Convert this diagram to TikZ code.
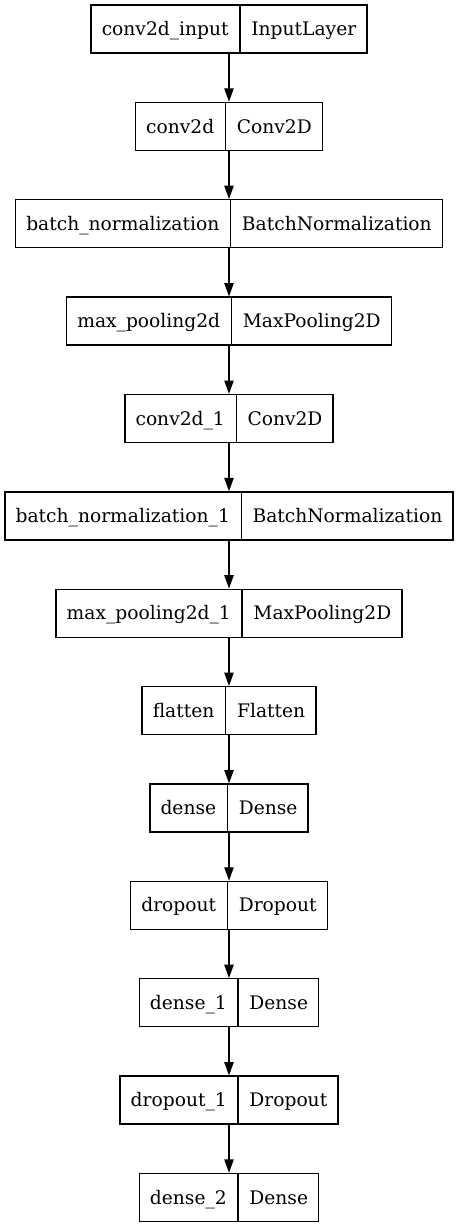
\documentclass[tikz,border=0pt]{standalone}
\usepackage{fontspec}
\setmainfont{DejaVu Serif}
\usetikzlibrary{shapes.multipart,arrows.meta}
% record field: fixed height and depth so every baseline sits alike
\newcommand{\fld}[1]{\rule[-1.5pt]{0pt}{13pt}\smash{#1}}
\begin{document}
\begin{tikzpicture}[x=0.75pt,y=-0.75pt,
  layer/.style={draw=black, line width=1pt, rectangle split,
    rectangle split horizontal, rectangle split parts=2,
    inner xsep=8pt, inner ysep=11.5pt, anchor=center,
    font=\fontsize{14}{16}\selectfont},
  flow/.style={draw=black, line width=1pt, -{Triangle[length=10pt,width=7pt]}}]
\useasboundingbox (0,0) rectangle (459,1228);

\node[layer] (n1)  at (229,29.0)   {\fld{conv2d\_input} \nodepart{two}\fld{InputLayer}};
\node[layer] (n2)  at (229,126.4)  {\fld{conv2d} \nodepart{two}\fld{Conv2D}};
\node[layer] (n3)  at (229,223.7)  {\fld{batch\_normalization} \nodepart{two}\fld{BatchNormalization}};
\node[layer] (n4)  at (229,321.1)  {\fld{max\_pooling2d} \nodepart{two}\fld{MaxPooling2D}};
\node[layer] (n5)  at (229,418.5)  {\fld{conv2d\_1} \nodepart{two}\fld{Conv2D}};
\node[layer] (n6)  at (229,515.9)  {\fld{batch\_normalization\_1} \nodepart{two}\fld{BatchNormalization}};
\node[layer] (n7)  at (229,613.2)  {\fld{max\_pooling2d\_1} \nodepart{two}\fld{MaxPooling2D}};
\node[layer] (n8)  at (229,710.6)  {\fld{flatten} \nodepart{two}\fld{Flatten}};
\node[layer] (n9)  at (229,808.0)  {\fld{dense} \nodepart{two}\fld{Dense}};
\node[layer] (n10) at (229,905.3)  {\fld{dropout} \nodepart{two}\fld{Dropout}};
\node[layer] (n11) at (229,1002.7) {\fld{dense\_1} \nodepart{two}\fld{Dense}};
\node[layer] (n12) at (229,1100.1) {\fld{dropout\_1} \nodepart{two}\fld{Dropout}};
\node[layer] (n13) at (229,1197.4) {\fld{dense\_2} \nodepart{two}\fld{Dense}};

\foreach \a/\b in {n1/n2,n2/n3,n3/n4,n4/n5,n5/n6,n6/n7,n7/n8,n8/n9,n9/n10,n10/n11,n11/n12,n12/n13}
  \draw[flow] (\a.south) -- (\b.north);
\end{tikzpicture}
\end{document}
